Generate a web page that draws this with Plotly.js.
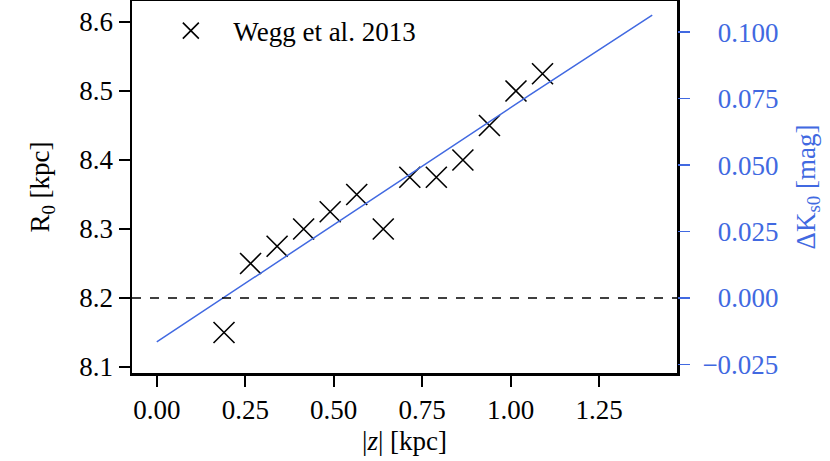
<!DOCTYPE html>
<html>
<head>
<meta charset="utf-8">
<script src="https://cdn.plot.ly/plotly-3.0.1.min.js"></script>
<style>
  html, body { margin: 0; padding: 0; background: #fff; }
  #chart { width: 830px; height: 461px; }
</style>
</head>
<body>
<div id="chart"></div>
<script>
// Wegg et al. 2013 measurements
const zWegg = [0.19, 0.265, 0.34, 0.415, 0.49, 0.565, 0.64, 0.715, 0.79, 0.865, 0.94, 1.015, 1.09];
const r0Wegg = [8.15, 8.25, 8.275, 8.3, 8.325, 8.35, 8.3, 8.375, 8.375, 8.4, 8.45, 8.5, 8.525];

// model offset in K_s0 (right axis)
const zModel = [0, 0.35, 0.7, 1.05, 1.4];
const dKModel = [-0.0165, 0.0143, 0.0451, 0.076, 0.1064];

const refLevel = 8.2;

const xTicks = [0, 0.25, 0.5, 0.75, 1, 1.25];
const xTickText = ["0.00", "0.25", "0.50", "0.75", "1.00", "1.25"];
const yTicks = [8.1, 8.2, 8.3, 8.4, 8.5, 8.6];
const yTickText = ["8.1", "8.2", "8.3", "8.4", "8.5", "8.6"];
const y2Ticks = [-0.025, 0, 0.025, 0.05, 0.075, 0.1];
const y2TickText = ["\u22120.025", "0.000", "0.025", "0.050", "0.075", "0.100"];

const serif = "Liberation Serif, Times New Roman, serif";
const blue = "#4169e1";
const fs = 27;

// right-axis labels are right aligned in the original: pad positive ones with a hidden minus
const y2Labels = y2TickText.map(t =>
    t.startsWith("\u2212") ? t : "<span style='color:rgba(0,0,0,0)'>\u2212</span>" + t
);

const traces = [];

traces.push({
    x: zWegg,
    y: r0Wegg,
    mode: "markers",
    name: "Wegg et al. 2013",
    marker: {
        symbol: "x-thin-open",
        size: 21,
        color: "black",
        line: { color: "black", width: 1.6 }
    },
    yaxis: "y"
});

traces.push({
    x: zModel,
    y: dKModel,
    mode: "lines",
    line: { color: blue, width: 1.5 },
    showlegend: false,
    yaxis: "y2"
});

const layout = {
    width: 830,
    height: 461,
    margin: { l: 132, r: 153, t: 1, b: 88 },
    paper_bgcolor: "white",
    plot_bgcolor: "white",
    font: { family: serif, size: fs, color: "black" },
    showlegend: true,
    legend: {
        x: 0.03, y: 0.985,
        xanchor: "left", yanchor: "top",
        bgcolor: "rgba(0,0,0,0)",
        itemwidth: 75,
        font: { family: serif, size: fs }
    },
    xaxis: {
        range: [-0.07, 1.47],
        tickvals: xTicks,
        ticktext: xTickText,
        ticks: "outside", ticklen: 11, tickwidth: 2, tickcolor: "black",
        showline: true, linewidth: 2.5, linecolor: "black", mirror: true,
        showgrid: false, zeroline: false,
        title: { text: "|<i>z</i>| [kpc]", font: { family: serif, size: fs }, standoff: 7 }
    },
    yaxis: {
        range: [8.0913, 8.6304],
        tickvals: yTicks,
        ticktext: yTickText,
        ticks: "outside", ticklen: 11, tickwidth: 2, tickcolor: "black",
        showline: true, linewidth: 2.5, linecolor: "black", mirror: true,
        showgrid: false, zeroline: false,
        title: { text: "R<sub>0</sub> [kpc]", font: { family: serif, size: fs }, standoff: 22 }
    },
    yaxis2: {
        overlaying: "y",
        side: "right",
        range: [-0.0282, 0.1117],
        tickvals: y2Ticks,
        ticktext: y2Labels,
        ticks: "outside", ticklen: 12, tickwidth: 1.5, tickcolor: blue,
        ticklabelstandoff: 7,
        tickfont: { family: serif, size: fs, color: blue },
        showline: false, showgrid: false, zeroline: false,
        title: { text: "\u0394K<sub>s0</sub> [mag]", font: { family: serif, size: fs, color: blue }, standoff: 18 }
    },
    shapes: [{
        type: "line",
        xref: "paper", x0: 0, x1: 1,
        yref: "y", y0: refLevel, y1: refLevel,
        line: { color: "black", width: 1.5, dash: "dash" }
    }]
};

Plotly.newPlot("chart", traces, layout, { displayModeBar: false, staticPlot: true });
</script>
</body>
</html>
